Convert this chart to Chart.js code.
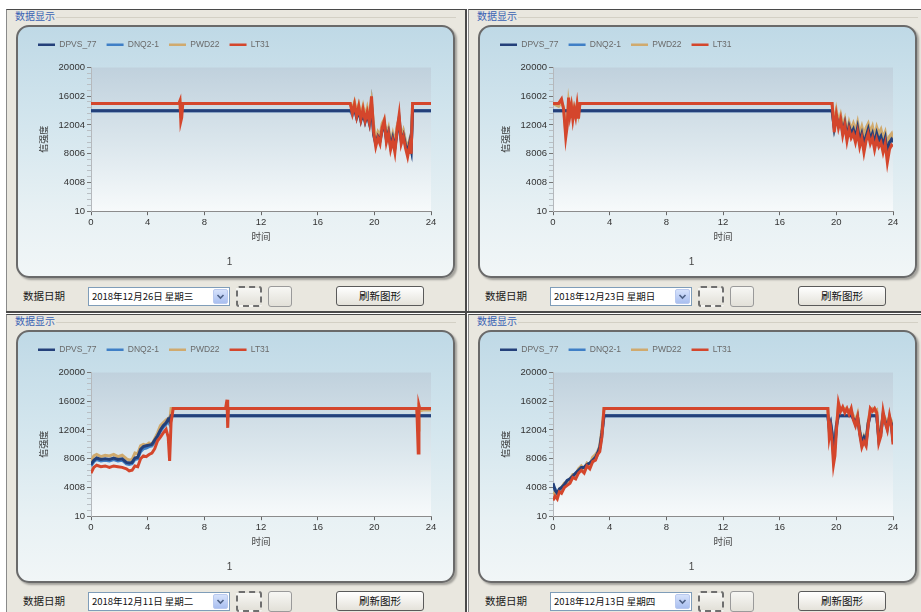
<!DOCTYPE html>
<html>
<head>
<meta charset="utf-8">
<script src="https://cdn.jsdelivr.net/npm/chart.js@4.4.1/dist/chart.umd.min.js"></script>
<style>
  html, body { margin: 0; padding: 0; background: #fff; }
  #page { position: relative; width: 921px; height: 612px; overflow: hidden; background: #fff;
    font-family: "Noto Sans CJK SC", sans-serif; }
  .panel { position: absolute; width: 462px; height: 305px; }
  .frame { position: absolute; left: 6px; top: 9px; width: 460px; height: 303px; box-sizing: border-box;
    background: #e9e7df; border-left: 1px solid #8a8a8a; border-top: 1px solid #4a4a4a; }
  .head { position: absolute; left: 15px; top: 10px; font-size: 10px; line-height: 12px; color: #3a62b4; }
  .headline { position: absolute; left: 56px; top: 17px; width: 400px; height: 1px; background: #d3d0c5; }
  .box { position: absolute; left: 16px; top: 25px; width: 439px; height: 253px; box-sizing: border-box;
    border: 2px solid #6a6a6a; border-radius: 13px;
    background: linear-gradient(#bfd9e6 0%, #d4e6ee 40%, #e8f1f4 75%, #f1f6f7 100%);
    box-shadow: 2px 2px 2px rgba(0,0,0,.3); }
  .box canvas { position: absolute; left: -2px; top: -2px; }
  .lbl { position: absolute; left: 23px; top: 289px; font-size: 10.5px; line-height: 14px; color: #1a1a1a; }
  .combo { position: absolute; left: 88px; top: 287px; width: 142px; height: 19px; box-sizing: border-box;
    background: #fff; border: 1px solid #7f9db9; font-size: 9.5px; line-height: 17px; padding-left: 3px; color: #111; }
  .drop { position: absolute; right: 1px; top: 1px; width: 15px; height: 15px; box-sizing: border-box; border-radius: 2px;
    background: linear-gradient(#d6e2fb, #a9bff0); border: 1px solid #b9c9ef; }
  .ibtn { position: absolute; top: 286px; height: 21px; box-sizing: border-box; border-radius: 3px;
    background: linear-gradient(#f7f7f4, #e2e0d8); }
  .b1 { left: 236px; width: 26px; border: 2px dashed #6f6f6f; }
  .b2 { left: 268px; width: 24px; border: 1px solid #9a9a9a; }
  .refresh { position: absolute; left: 336px; top: 286px; width: 88px; height: 20px; box-sizing: border-box;
    border: 1px solid #5a5a5a; border-radius: 3px; background: linear-gradient(#ffffff, #e4e2da);
    font-size: 10.5px; line-height: 18px; text-align: center; color: #111; }
  .vsep { position: absolute; left: 465px; top: 9px; width: 2px; height: 603px; background: #4a4a4a; }
  .hsep { position: absolute; left: 6px; top: 311px; width: 915px; height: 2px; background: #4a4a4a; }
</style>
</head>
<body>
<div id="page"></div>
<script>
// axis ticks and legend
const xTickValues = [0, 4, 8, 12, 16, 20, 24];
const yTickValues = [10, 4008, 8006, 12004, 16002, 20000];
const seriesNames = ["DPVS_77", "DNQ2-1", "PWD22", "LT31"];
const seriesColors = ["#24407a", "#3f7fc6", "#d0aa6e", "#d4462c"];
const seriesOrder = [1, 3, 2, 0];
const dateLabels = ["2018年12月26日 星期三", "2018年12月23日 星期日", "2018年12月11日 星期二", "2018年12月13日 星期四"];

// panel 1 (12-26)
const p1Time = [0, 6.2, 6.28, 6.34, 6.4, 6.48,
  18.3, 18.45, 18.6, 18.75, 18.9, 19.05, 19.2, 19.35, 19.5, 19.65, 19.8, 19.95, 20.1, 20.25, 20.4, 20.55, 20.7, 20.85, 21.0, 21.15, 21.3, 21.45, 21.6, 21.75, 21.9, 22.05, 22.2, 22.35, 22.5,
  22.6, 22.7, 24];
const p1Dpvs = [14000, 14000, 14000, 14000, 14000, 14000,
  14000, 13800, 14200, 13000, 14000, 12600, 13600, 12400, 13400, 12200, 14600, 10600, 9400, 10400, 9800, 11200, 12200, 10000, 11000, 9000, 10200, 8800, 10800, 12600, 9800, 10600, 9200, 8200, 9600,
  8600, 14000, 14000];
const p1Dnq2 = [14000, 14000, 14000, 14000, 14000, 14000,
  14000, 13400, 14400, 13400, 14200, 13000, 13800, 12800, 13600, 12600, 15000, 11400, 9800, 10800, 10000, 11800, 12400, 10200, 11200, 9400, 10400, 9000, 11400, 13000, 10000, 11000, 9400, 8400, 9800,
  8800, 14000, 14000];
const p1Pwd22 = [15000, 15000, 15200, 13000, 14000, 15000,
  15000, 14200, 15200, 13800, 14800, 13400, 14600, 13200, 14400, 13000, 15200, 12000, 10000, 11000, 10400, 12200, 12800, 10600, 11600, 9600, 10800, 9400, 11800, 12800, 10200, 11200, 9800, 8800, 10000,
  9200, 15000, 15000];
const p1Lt31 = [15000, 15000, 15400, 12500, 13000, 15000,
  15000, 13600, 14900, 13200, 14600, 12800, 14200, 12600, 13800, 12400, 16000, 11000, 9000, 10200, 9400, 11600, 12600, 9600, 10800, 8600, 9800, 8200, 11200, 13400, 9400, 10400, 8800, 7600, 9200,
  8000, 15000, 15000];

// panel 2 (12-23)
const p2Time = [0, 0.4, 0.6, 0.75, 0.9, 1.0, 1.1, 1.2, 1.3, 1.4, 1.5, 1.6, 1.7, 1.8, 1.9,
  19.7, 19.85, 20.0, 20.15, 20.3, 20.45, 20.6, 20.75, 20.9, 21.05, 21.2, 21.35, 21.5, 21.65, 21.8, 21.95, 22.1, 22.25, 22.4, 22.55, 22.7, 22.85, 23.0, 23.15, 23.3, 23.45, 23.6, 23.75, 23.9, 24];
const p2Dpvs = [14000, 14000, 14000, 14000, 14000, 14000, 14000, 14000, 14000, 14000, 14000, 14000, 14000, 14000, 14000,
  14000, 11600, 13200, 12000, 12600, 11000, 12200, 10400, 11800, 10800, 11400, 10200, 11600, 9800, 10800, 9400, 10400, 11400, 10000, 10800, 9400, 10800, 9800, 10400, 9200, 10200, 8000, 9600, 10000, 9600];
const p2Dnq2 = [14000, 14000, 14000, 14000, 14000, 14000, 14000, 14000, 14000, 14000, 14000, 14000, 14000, 14000, 14000,
  14000, 11800, 13600, 12200, 13000, 11400, 12400, 10800, 12000, 11000, 11800, 10600, 11800, 10200, 11200, 9800, 10800, 11600, 10400, 11200, 9800, 11000, 10200, 10800, 9600, 10400, 8600, 9800, 10400, 9800];
const p2Pwd22 = [15000, 14600, 15200, 14400, 11000, 12400, 15200, 13800, 14800, 13400, 14400, 13600, 14800, 13600, 15000,
  15000, 12000, 14000, 12400, 13400, 11800, 12800, 11000, 12400, 11400, 12200, 11200, 12400, 10800, 11800, 10600, 11600, 12200, 11000, 11800, 10400, 11700, 10800, 11400, 10200, 11000, 9400, 10400, 10800, 10000];
const p2Lt31 = [15000, 15000, 15600, 14200, 10300, 11800, 15800, 13400, 14600, 12800, 14200, 13200, 14800, 12900, 15000,
  15000, 11000, 13400, 11600, 12800, 10600, 12000, 9800, 11400, 10200, 10800, 9600, 11000, 9000, 10200, 8200, 9800, 10800, 9400, 10200, 8600, 10000, 9000, 9600, 8200, 9400, 6800, 8600, 9200, 9000];

// panel 3 (12-11)
const p3Time = [0, 0.2, 0.4, 0.7, 1.0, 1.3, 1.6, 1.9, 2.2, 2.5, 2.7, 2.9, 3.1, 3.3, 3.5, 3.7, 3.9, 4.1, 4.3, 4.5,
  4.7, 4.9, 5.1, 5.3, 5.45, 5.55, 5.65, 5.8, 9.5, 9.6, 9.65, 9.7, 9.8, 23.0, 23.1, 23.15, 23.2, 23.3, 23.5, 24];
const p3Dpvs = [7200, 7800, 8100, 7900, 8000, 7900, 8100, 7900, 8000, 7500, 7400, 7500, 8100, 8200, 9300, 9700, 9800, 9900, 10000, 10600,
  11200, 12000, 12600, 13000, 13500, 13200, 14000, 14000, 14000, 14000, 14000, 14000, 14000, 14000, 14000, 14000, 14000, 14000, 14000, 14000];
const p3Dnq2 = [7000, 7600, 7900, 7700, 7800, 7700, 7900, 7700, 7800, 7300, 7200, 7300, 7900, 8000, 9000, 9400, 9500, 9700, 9800, 10300,
  11000, 11800, 12400, 12800, 13200, 12800, 14000, 14000, 14000, 14000, 14000, 14000, 14000, 14000, 14000, 14000, 14000, 14000, 14000, 14000];
const p3Pwd22 = [7600, 8400, 8600, 8300, 8500, 8400, 8600, 8300, 8500, 8000, 7800, 7900, 8800, 8700, 9800, 10000, 9900, 10200, 10000, 10800,
  11600, 12600, 13000, 13400, 13600, 13200, 15000, 15000, 15000, 15400, 14200, 15000, 15000, 15000, 12000, 15000, 14800, 14700, 14800, 14800];
const p3Lt31 = [6000, 6800, 7100, 6900, 7000, 6800, 7000, 6900, 6800, 6600, 6300, 6400, 7000, 6900, 8000, 8400, 8300, 8600, 8800, 9400,
  10500, 11000, 11600, 12100, 11000, 7700, 13000, 15000, 15000, 16200, 12300, 15000, 15000, 15000, 8800, 15400, 15000, 15000, 15000, 15000];

// panel 4 (12-13)
const p4Time = [0, 0.15, 0.3, 0.45, 0.6, 0.8, 1.0, 1.2, 1.4, 1.6, 1.8, 2.0, 2.2, 2.4, 2.6, 2.8, 3.0, 3.15, 3.3, 3.45, 3.6,
  19.4, 19.5, 19.6, 19.7, 19.8, 19.9, 20.0, 20.15, 20.3, 20.45, 20.6, 20.75, 20.9, 21.05, 21.2, 21.35, 21.5, 21.65, 21.8, 21.95,
  22.1, 22.25, 22.4, 22.55, 22.7, 22.85, 23.0, 23.15, 23.3, 23.45, 23.6, 23.75, 23.9, 24];
const p4Dpvs = [4600, 3600, 3200, 3800, 4000, 4400, 5000, 5200, 5600, 6000, 6400, 6800, 6800, 7200, 7400, 7800, 8200, 8800, 9600, 11600, 14000,
  14000, 12400, 13000, 11600, 9000, 10000, 12600, 14000, 14000, 14000, 14000, 14000, 14000, 14000, 13600, 13000, 13800, 11800, 10200, 11000,
  10400, 13000, 14000, 14000, 14000, 14000, 10800, 11800, 14000, 13200, 12400, 13600, 12800, 10600];
const p4Dnq2 = [4200, 3800, 3000, 3600, 3800, 4200, 4800, 5000, 5600, 5800, 6200, 6600, 6600, 7000, 7200, 7600, 8000, 8600, 9400, 11200, 14000,
  14000, 12000, 12800, 11400, 8600, 9800, 12200, 14400, 14000, 14000, 14000, 14000, 14000, 14200, 13800, 12800, 13600, 11600, 10000, 10800,
  10200, 12800, 14200, 14000, 14000, 14000, 10600, 11600, 14200, 13400, 12200, 13800, 12600, 10400];
const p4Pwd22 = [3000, 3400, 3000, 3800, 4000, 4600, 4800, 5200, 5800, 5800, 6600, 7000, 6600, 7400, 7200, 8200, 8600, 9000, 9800, 12000, 15000,
  15000, 12000, 12600, 11200, 8400, 9600, 12400, 15400, 15000, 14800, 15000, 14600, 14800, 14600, 14000, 13200, 14200, 12000, 10400, 11200,
  10600, 13200, 14800, 15000, 14600, 14800, 11000, 12000, 14200, 13600, 12800, 13800, 13200, 11000];
const p4Lt31 = [2200, 2800, 2400, 3400, 3200, 4000, 4300, 4600, 5400, 5200, 6000, 6400, 6000, 7000, 6600, 7600, 7800, 8600, 9000, 11000, 15000,
  15000, 11000, 12200, 10400, 7200, 8400, 11800, 15800, 14600, 15200, 14400, 15000, 14200, 15000, 13400, 12600, 13800, 11400, 9600, 10400,
  9800, 12600, 15000, 14600, 15000, 14400, 10200, 11200, 14600, 13000, 12000, 14000, 12400, 10000];

const FONT = 'Arial, "Liberation Sans", "Noto Sans CJK SC", sans-serif';

// gradient behind the plot area
const plotBg = {
  id: "plotBg",
  beforeDraw(chart) {
    const { ctx, chartArea: a } = chart;
    const g = ctx.createLinearGradient(0, a.top, 0, a.bottom);
    g.addColorStop(0, "#c0d1dd");
    g.addColorStop(0.55, "#dce7ed");
    g.addColorStop(1, "#f7fafb");
    ctx.save();
    ctx.fillStyle = g;
    ctx.fillRect(a.left, a.top, a.width, a.height);
    ctx.restore();
  },
};

// a bit more room under the legend
const legendGap = {
  id: "legendGap",
  beforeInit(chart) {
    const fit = chart.legend.fit;
    chart.legend.fit = function () {
      fit.call(this);
      this.height += 8.5;
    };
  },
};

function yTicksWithMinor() {
  let out = [];
  for (let i = 0; i < yTickValues.length; i++) {
    out.push({ value: yTickValues[i] });
    if (i < yTickValues.length - 1) {
      let step = (yTickValues[i + 1] - yTickValues[i]) / 5;
      for (let k = 1; k < 5; k++) out.push({ value: yTickValues[i] + k * step });
    }
  }
  return out;
}

function buildPanel(n, left, top) {
  const page = document.getElementById("page");
  const p = document.createElement("div");
  p.className = "panel";
  p.style.left = left + "px";
  p.style.top = top + "px";
  p.innerHTML =
    '<div class="frame"></div>' +
    '<div class="head">数据显示</div><div class="headline"></div>' +
    '<div class="box"><canvas id="c' + n + '" width="439" height="253"></canvas></div>' +
    '<div class="lbl">数据日期</div>' +
    '<div class="combo">' + dateLabels[n] +
    '<div class="drop"><svg width="13" height="13"><path d="M3.5 5 L6.5 8 L9.5 5" stroke="#4d6185" stroke-width="1.6" fill="none"/></svg></div></div>' +
    '<div class="ibtn b1"></div><div class="ibtn b2"></div>' +
    '<div class="refresh">刷新图形</div>';
  page.appendChild(p);
}

function drawPanel(n, time, dpvs, dnq2, pwd22, lt31) {
  const series = [dpvs, dnq2, pwd22, lt31];
  new Chart(document.getElementById("c" + n), {
    type: "line",
    data: {
      datasets: series.map((vals, k) => ({
        label: seriesNames[k],
        data: time.map((t, i) => ({ x: t, y: vals[i] })),
        borderColor: seriesColors[k],
        backgroundColor: seriesColors[k],
        pointBorderColor: seriesColors[k],
        pointBorderWidth: 2.5,
        borderWidth: 3,
        pointRadius: 0,
        tension: 0,
        order: seriesOrder[k],
      })),
    },
    options: {
      responsive: false,
      animation: false,
      devicePixelRatio: 1,
      layout: { padding: { left: 12, right: 24, top: 5.5, bottom: 0 } },
      plugins: {
        legend: {
          position: "top",
          align: "start",
          labels: {
            usePointStyle: true,
            pointStyle: "line",
            pointStyleWidth: 17,
            padding: 10,
            color: "#6a6a6a",
            font: { family: FONT, size: 8.5 },
            sort: (a, b) => a.datasetIndex - b.datasetIndex,
          },
        },
        subtitle: {
          display: true,
          text: "1",
          position: "bottom",
          color: "#444",
          font: { family: FONT, size: 10 },
          padding: { top: 13, bottom: 10 },
        },
        tooltip: { enabled: false },
      },
      scales: {
        x: {
          type: "linear",
          min: 0,
          max: 24,
          afterBuildTicks: (s) => { s.ticks = xTickValues.map((v) => ({ value: v })); },
          ticks: { color: "#333", font: { family: FONT, size: 9.5 }, padding: 1, maxRotation: 0, autoSkip: false },
          grid: { drawOnChartArea: false, tickLength: 4, tickColor: "#666" },
          border: { color: "#8c8c8c" },
          title: { display: true, text: "时间", color: "#444", font: { family: FONT, size: 9.5 }, padding: { top: 3, bottom: 0 } },
        },
        y: {
          type: "linear",
          min: 10,
          max: 20000,
          afterBuildTicks: (s) => { s.ticks = yTicksWithMinor(); },
          afterFit: (s) => { s.width = 63; },
          ticks: {
            color: "#333",
            font: { family: FONT, size: 9.5 },
            padding: 2,
            autoSkip: false,
            callback: (v) => (yTickValues.includes(v) ? String(v) : ""),
          },
          grid: {
            drawOnChartArea: false,
            tickLength: 4,
            tickColor: (c) => (c.tick && yTickValues.includes(c.tick.value) ? "#777" : "#b9bfc4"),
          },
          border: { color: "#b5b9bd" },
          title: { display: true, text: "信强度", color: "#333", font: { family: FONT, size: 9 }, padding: { top: 11.6, bottom: 0 } },
        },
      },
    },
    plugins: [plotBg, legendGap],
  });
}

buildPanel(0, 0, 0);
buildPanel(1, 462, 0);
buildPanel(2, 0, 305);
buildPanel(3, 462, 305);
const page = document.getElementById("page");
page.insertAdjacentHTML("beforeend", '<div class="vsep"></div><div class="hsep"></div>');

drawPanel(0, p1Time, p1Dpvs, p1Dnq2, p1Pwd22, p1Lt31);
drawPanel(1, p2Time, p2Dpvs, p2Dnq2, p2Pwd22, p2Lt31);
drawPanel(2, p3Time, p3Dpvs, p3Dnq2, p3Pwd22, p3Lt31);
drawPanel(3, p4Time, p4Dpvs, p4Dnq2, p4Pwd22, p4Lt31);
</script>
</body>
</html>
